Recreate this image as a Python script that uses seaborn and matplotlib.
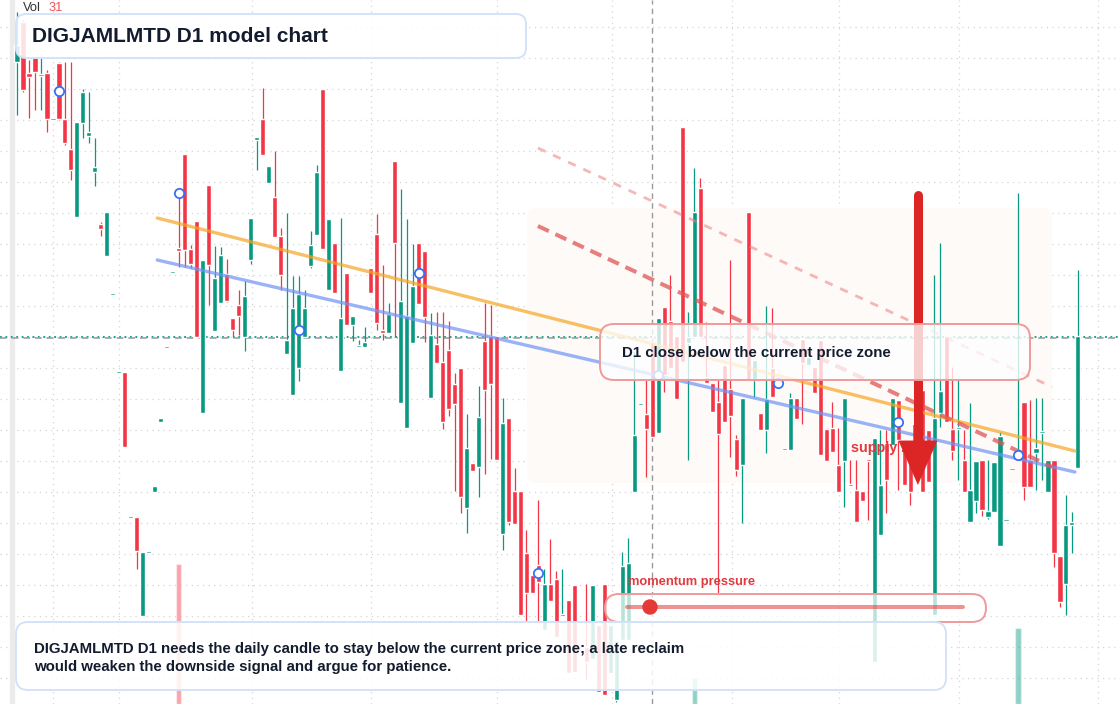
import numpy as np
import matplotlib.pyplot as plt
from matplotlib.patches import FancyBboxPatch, Circle, Rectangle
from matplotlib.transforms import Affine2D
import seaborn as sns

sns.set_style("white")
plt.rcParams["font.family"] = ["Liberation Sans", "DejaVu Sans"]

W, H = 1120, 704

# daily candles (None = no candle / wick ends at body)
opens = [93.8, 97.8, 92.7, 94.3, 92.4, 92.7, 88.0, 93.7, 88.1, 85.1,
         78.3, 87.7, 86.4, 82.8, 77.6, 74.4, 70.5, 62.7, 62.8, 48.2,
         48.3, 38.4, 44.7, 50.8, 57.8, 65.2, 72.7, 75.2, 84.6, 75.1,
         77.9, 58.7, 81.5, 66.9, 69.7, 72.6, 68.2, 69.5, 66.3, 74.0,
         86.0, 88.1, 81.7, 80.3, 76.4, 64.6, 60.5, 63.2, 66.3, 73.4,
         76.5, 91.1, 71.0, 75.7, 62.9, 72.7, 67.5, 65.3, 65.3, 73.2,
         76.6, 67.0, 66.7, 83.9, 59.7, 57.2, 65.7, 75.7, 74.9, 60.2,
         65.6, 63.8, 65.0, 61.6, 63.2, 49.2, 53.7, 53.3, 65.9, 66.4,
         66.4, 46.6, 58.2, 50.9, 50.9, 44.7, 42.5, 43.5, 37.0, 41.6,
         42.1, 38.4, 40.0, 41.5, None, 35.3, 34.1, 37.5, 41.6, 32.7,
         30.0, 36.0, 36.0, 50.8, 59.5, 58.6, 65.8, 56.7, 69.3, 67.9,
         66.4, 87.3, 65.7, 66.3, 81.2, 62.3, 61.7, 59.8, 63.5, 61.1,
         56.1, 53.5, 78.8, 62.0, 58.7, 57.0, 63.2, None, 55.0, 55.0,
         60.2, 66.1, 63.5, 63.3, 66.0, 57.1, 57.2, 53.5, 53.9, 51.6,
         51.0, 50.9, 54.0, 33.8, 46.5, 55.7, 55.5, 60.0, 55.0, 54.0,
         58.0, 61.0, 57.0, 38.5, 58.7, 66.4, 57.1, 57.1, 54.0, 47.8,
         49.9, 54.0, 48.3, 48.8, 45.4, 47.9, 53.0, 54.2, 59.8, 54.0,
         54.7, 56.7, 50.8, 54.0, 44.4, 41.6, 47.5, 53.2]
closes = [95.5, 91.0, 92.3, 92.8, 92.6, 88.1, 88.1, 88.1, 85.7, 83.0,
          87.8, 90.8, 86.8, 83.3, 77.1, 78.8, 70.6, 62.8, 55.3, 48.3,
          44.9, 44.8, 44.8, 51.4, 58.2, 65.3, 72.8, 74.9, 75.0, 73.6,
          66.3, 74.0, 73.5, 72.2, 74.5, 69.9, 67.0, 68.4, 70.4, 78.2,
          86.3, 84.5, 83.4, 76.3, 72.5, 66.0, 69.2, 70.6, 69.2, 75.5,
          82.8, 75.1, 78.1, 70.7, 68.2, 67.5, 68.4, 65.4, 65.8, 70.7,
          67.7, 66.7, 68.6, 75.7, 69.9, 68.4, 71.4, 69.6, 68.3, 66.5,
          63.7, 57.8, 59.1, 59.6, 50.3, 55.2, 52.9, 58.3, 61.0, 61.6,
          54.0, 57.7, 47.8, 47.6, 38.5, 40.7, 40.7, 41.8, 41.6, 39.9,
          36.3, 38.5, 32.7, 32.8, None, 33.8, 41.5, 30.8, 30.5, 37.5,
          36.0, 43.4, 43.7, 56.5, 59.6, 57.1, 56.3, 68.2, 62.5, 63.2,
          60.1, 63.8, 66.3, 78.8, 66.3, 61.7, 58.8, 56.6, 57.8, 58.4,
          53.0, 60.2, 62.0, 64.0, 57.0, 60.1, 60.3, None, 55.1, 60.2,
          58.1, 63.7, 64.3, 60.7, 54.5, 53.9, 54.8, 50.8, 60.2, 51.4,
          47.8, 49.9, 53.9, 56.2, 51.5, 52.0, 60.2, 56.0, 51.5, 50.8,
          54.0, 50.8, 51.8, 58.2, 60.9, 57.8, 54.9, 57.2, 50.8, 51.0,
          53.9, 49.0, 48.9, 53.8, 56.4, 48.0, 53.1, 54.5, 51.3, 51.3,
          55.2, 56.9, 54.0, 44.7, 39.8, 47.5, 47.8, 66.4]
highs = [98.8, 98.0, 94.0, None, 94.3, 93.0, None, 93.8, 93.8, 93.8,
         None, 91.1, 90.8, 86.2, 77.8, None, None, None, None, None,
         None, None, None, None, None, None, None, 80.7, None, 75.5,
         None, None, None, 75.4, 75.3, 74.1, None, 71.0, 71.9, None,
         None, 91.2, None, 84.9, 77.2, 78.7, 72.4, 72.4, 71.0, 76.9,
         83.5, None, None, None, 78.2, None, None, 66.0, 67.3, None,
         78.6, 73.5, 69.7, None, 81.1, 78.1, 75.6, None, None, 68.7,
         68.8, 68.8, 67.9, 62.7, None, 58.6, None, 61.4, 69.7, 69.5,
         None, 60.2, None, 53.2, None, 47.0, None, 50.0, 43.1, 46.1,
         42.9, 43.1, None, None, None, 41.6, None, None, None, None,
         None, 44.8, 46.2, 64.8, None, 62.0, None, None, None, 72.5,
         None, None, 68.8, 83.2, 82.2, 67.8, None, 62.0, None, 74.0,
         56.5, None, None, None, None, 69.4, 69.2, None, None, 60.7,
         None, None, None, None, None, None, 59.8, 57.2, None, 54.0,
         54.0, None, None, None, 57.0, 57.0, None, None, None, None,
         None, None, None, 72.5, 75.7, None, 63.3, 62.1, 57.0, 59.7,
         None, None, 54.0, None, 56.8, None, None, 80.7, None, 60.0,
         60.2, 60.2, None, None, None, 50.5, 48.8, 73.0]
lows = [88.5, 90.8, 88.2, 89.0, 89.0, 86.8, None, 88.0, 85.5, 82.0,
        None, 86.2, 85.7, 81.4, 76.4, None, None, None, None, None,
        43.1, None, None, None, None, None, None, 73.3, 73.3, 73.2,
        None, None, 69.5, None, None, 69.8, 66.4, 66.5, 64.9, 73.6,
        83.0, None, None, None, 71.0, None, None, 61.9, None, 73.2,
        None, None, None, None, None, None, 65.9, None, None, None,
        67.0, 66.0, None, 66.3, None, None, None, None, 65.8, None,
        None, 57.1, 58.4, 50.9, 48.7, 46.7, None, 50.3, 52.6, 54.1,
        None, 45.0, 47.5, None, None, 37.8, None, 37.8, None, None,
        None, None, None, None, None, 32.1, None, None, None, None,
        29.8, None, None, None, None, 52.3, None, None, 60.8, None,
        None, None, 54.0, None, None, None, None, 40.7, None, 54.3,
        52.4, 47.7, None, 60.3, None, 54.7, None, None, None, None,
        None, 57.6, None, None, None, None, None, None, 49.3, None,
        None, None, 48.0, None, None, 48.7, None, 51.0, None, 49.5,
        None, None, None, None, 57.3, None, 54.0, 52.0, None, None,
        48.7, 48.4, 48.1, None, None, None, None, 54.0, 50.0, None,
        51.0, 52.0, None, 43.3, 39.3, 38.5, 44.7, None]

# volume pane (only the visible bars)
vol_bar = [27, 113, 167]
vol_val = [31, 5.8, 16.8]

# model overlays
sig_bar = [7, 27, 47, 67, 87, 107, 127, 147, 167]
sig_price = [90.9, 80.7, 67.0, 72.7, 42.7, 62.5, 61.7, 57.8, 54.5]
trend_x = [23.4, 176.5]
trend_orange = [78.2, 54.9]
trend_blue = [74.0, 52.8]
chan_x = [86.9, 172.7]
chan_upper = [85.2, 61.3]
chan_lower = [77.4, 53.3]
last_price = 66.35
cursor_bar = 106
month_bars = [6, 17, 39.2, 59.1, 80.1, 99.3, 119.3, 137.1, 157.2, 180.3]
arrow_bar, arrow_from, arrow_to = 150.3, 80.5, 51.5

RED, TEAL = "#f23645", "#089981"

fig = plt.figure(figsize=(W / 100, H / 100), dpi=100)
ax = fig.add_axes([0, 0, 1, 1])
step = 5.994
ax.set_xlim(-17 / step, (W - 17) / step)
ax.set_ylim(29.6, 100)
P = Affine2D().scale(1 / W, -1 / H).translate(0, 1) + fig.transFigure

# grid
ax.set_yticks(last_price + 3.1 * np.arange(-11, 11))
ax.set_xticks(month_bars)
ax.grid(True, color="#d4d4d4", ls=(0, (1, 3.5)), lw=0.9)
ax.tick_params(left=False, bottom=False, labelleft=False, labelbottom=False)
for s in ax.spines.values():
    s.set_visible(False)

ax.add_patch(Rectangle((10, 0), 4, H, transform=P, color="#ebebeb", zorder=2))
ax.add_patch(FancyBboxPatch((527, 208), 525, 275, boxstyle="round,pad=0,rounding_size=10",
                            transform=P, fc="#fdfaf7", ec="none", zorder=1))

# candles
o = np.array(opens, dtype=float)
c = np.array(closes, dtype=float)
hi = np.fmax(np.array(highs, dtype=float), np.fmax(o, c))
lo = np.fmin(np.array(lows, dtype=float), np.fmin(o, c))
x = np.arange(len(o))
ok = ~np.isnan(o)
col = np.where(c >= o, TEAL, RED)
ax.vlines(x[ok], lo[ok], hi[ok], colors=col[ok], lw=0.9, zorder=3)
body = np.maximum(np.abs(c - o), 0.2)
ax.bar(x[ok], body[ok], bottom=np.fmin(o, c)[ok], width=0.85, color=col[ok], zorder=3.1)

# volume
vb = np.array(vol_bar)
vh = np.array(vol_val) / max(vol_val) * 14.0
ax.bar(vb, vh, bottom=29.6, width=0.85, color=col[vb], alpha=0.45, zorder=2.5)

# price lines
ax.axhline(last_price, color=TEAL, ls=(0, (1, 2)), lw=1.3, zorder=2.6)
ax.axhline(last_price - 0.17, color="#a0a0a0", ls=(0, (4, 3)), lw=1.2, zorder=2.6)
ax.axvline(cursor_bar, color="#9a9a9a", ls=(0, (4, 3)), lw=1, zorder=2.6)

# trend lines
sns.lineplot(x=trend_x, y=trend_orange, ax=ax, color="#f5a623", alpha=0.7, lw=2.4, zorder=4)
sns.lineplot(x=trend_x, y=trend_blue, ax=ax, color="#6f93f5", alpha=0.7, lw=2.4, zorder=4)
ax.plot(chan_x, chan_upper, color="#ee7d7d", alpha=0.55, lw=2, ls=(0, (3, 3)), zorder=4)
ax.plot(chan_x, chan_lower, color="#e05555", alpha=0.75, lw=2.9, ls=(0, (3, 1.8)), zorder=4)

sns.scatterplot(x=sig_bar, y=sig_price, ax=ax, s=45, color="white", edgecolor="#3b6ff5",
                linewidth=1.3, zorder=5)

# supply zone + arrow
ax.text(851, 448, "supply zone", transform=P, color="#e0393e", fontsize=10.4,
        fontweight="bold", va="center", zorder=5)
ax.plot([arrow_bar, arrow_bar], [arrow_from, arrow_to + 4], color="#dc2626", lw=6.5,
        solid_capstyle="round", zorder=5.5)
ax.annotate("", xy=(arrow_bar, arrow_to), xytext=(arrow_bar, arrow_to + 6),
            arrowprops=dict(arrowstyle="simple,head_length=1.6,head_width=1.4,tail_width=0.33",
                            mutation_scale=20, color="#dc2626", lw=0, shrinkA=0, shrinkB=0),
            zorder=5.5)


def box(x0, y0, x1, y1, ec, a, r, z):
    ax.add_patch(FancyBboxPatch((x0, y0), x1 - x0, y1 - y0,
                                boxstyle=f"round,pad=0,rounding_size={r}", transform=P,
                                fc=(1, 1, 1, a), ec=ec, lw=1.4, zorder=z))


NAVY = "#131c2e"
box(600, 324, 1030, 380, "#f09a9a", 0.78, 14, 6)
ax.text(622, 353, "D1 close below the current price zone", transform=P, color=NAVY,
        fontsize=10.8, fontweight="bold", va="center", zorder=7)

box(605, 594, 986, 622, "#f09a9a", 0.72, 14, 6)
ax.plot([627, 963], [607, 607], transform=P, color="#e53935", alpha=0.55, lw=2.9, zorder=6.5)
ax.add_patch(Circle((650, 607), 7, transform=P, color="#e53935", zorder=6.6))
ax.text(628, 582, "momentum pressure", transform=P, color="#e0393e", fontsize=9.3,
        fontweight="bold", va="center", zorder=7)

box(16, 622, 946, 690, "#d3e2fa", 0.86, 12, 9)
ax.text(34, 658, "DIGJAMLMTD D1 needs the daily candle to stay below the current price zone; a late reclaim\n"
        "would weaken the downside signal and argue for patience.", transform=P, color=NAVY,
        fontsize=10.8, fontweight="bold", va="center", linespacing=1.33, zorder=10)

box(16, 14, 526, 58, "#d3e2fa", 0.86, 10, 9)
ax.text(32, 36, "DIGJAMLMTD D1 model chart", transform=P, color=NAVY, fontsize=15,
        fontweight="bold", va="center", zorder=10)
ax.text(23, 8, "Vol", transform=P, color="#333333", fontsize=9.3, va="center", zorder=10)
ax.text(49, 8, "31", transform=P, color="#f0535a", fontsize=9.3, va="center", zorder=10)

fig.savefig("out.png", dpi=100)
